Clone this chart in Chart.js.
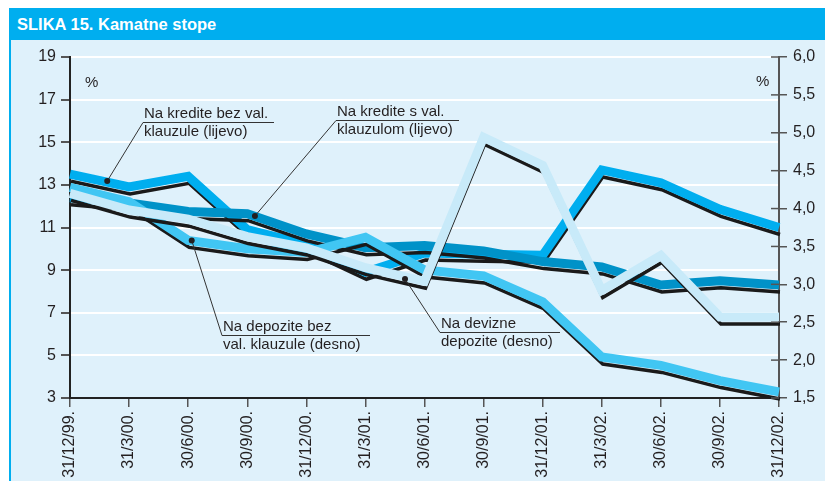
<!DOCTYPE html>
<html>
<head>
<meta charset="utf-8">
<script src="https://cdn.jsdelivr.net/npm/chart.js@4.4.1/dist/chart.umd.min.js"></script>
<style>
  body { margin: 0; background: #fff; }
  #wrap { position: relative; width: 825px; height: 484px; overflow: hidden; }
  #panel { position: absolute; left: 9px; top: 40px; width: 816px; height: 441px; background: #dff1fb; border-left: 2px solid #00aeef; box-sizing: border-box; }
  #title { position: absolute; left: 9px; top: 8px; width: 816px; height: 32px; background: #00aeef; color: #fff;
           font: bold 16.5px "Liberation Sans", Arial, Helvetica, sans-serif; line-height: 33px; padding-left: 8px; box-sizing: border-box; }
  #myChart { position: absolute; left: 0; top: 0; }
</style>
</head>
<body>
<div id="wrap">
  <div id="panel"></div>
  <div id="title">SLIKA 15. Kamatne stope</div>
  <canvas id="myChart" width="825" height="484"></canvas>
</div>
<script>
const labels = ["31/12/99.", "31/3/00.", "30/6/00.", "30/9/00.", "31/12/00.", "31/3/01.", "30/6/01.",
  "30/9/01.", "31/12/01.", "31/3/02.", "30/6/02.", "30/9/02.", "31/12/02."];

// lijevo (%)
const kreditiBezKlauzule = [13.5, 12.9, 13.4, 10.9, 10.2, 8.9, 9.8, 9.75, 9.7, 13.7, 13.1, 11.85, 11.0];
const kreditiSKlauzulom = [12.4, 12.15, 11.75, 11.65, 10.7, 10.05, 10.15, 9.9, 9.4, 9.15, 8.3, 8.5, 8.3];
// desno (%)
const depozitiBezKlauzule = [4.28, 4.09, 3.58, 3.47, 3.42, 3.62, 3.19, 3.11, 2.77, 2.04, 1.93, 1.73, 1.58];
const devizniDepoziti = [4.2, 3.98, 3.86, 3.63, 3.48, 3.22, 3.04, 4.94, 4.57, 2.92, 3.38, 2.57, 2.57];

const leftTicks = [3, 5, 7, 9, 11, 13, 15, 17, 19];
const rightTicks = [1.5, 2.0, 2.5, 3.0, 3.5, 4.0, 4.5, 5.0, 5.5, 6.0];

const FONT = '"Liberation Sans", Arial, Helvetica, sans-serif';
const TEXT = "#231f20";

// opisi linija: tocka na liniji (indeks datuma, vrijednost, os) + polozaj teksta
const notes = [
  { lines: ["Na kredite bez val.", "klauzule (lijevo)"], tx: 144, ty: 118, ux: 274, at: [0.63, 13.18, "y"] },
  { lines: ["Na kredite s val.", "klauzulom (lijevo)"], tx: 337, ty: 116, ux: 459, at: [3.13, 11.54, "y"] },
  { lines: ["Na depozite bez", "val. klauzule (desno)"], tx: 223, ty: 331, ux: 370, at: [2.06, 3.58, "y1"] },
  { lines: ["Na devizne", "depozite (desno)"], tx: 441, ty: 328, ux: 560, at: [5.67, 3.07, "y1"] },
];

const shadowPlugin = {
  id: "shadow",
  beforeDatasetDraw(chart, args) {
    if (chart.data.datasets[args.index].shadow) {
      chart.ctx.save();
      chart.ctx.translate(1, 7);
    }
  },
  afterDatasetDraw(chart, args) {
    if (chart.data.datasets[args.index].shadow) chart.ctx.restore();
  },
};

const notesPlugin = {
  id: "notes",
  afterDraw(chart) {
    const ctx = chart.ctx;
    const xs = chart.scales.x;
    ctx.save();
    // unutarnje crtice desne osi
    const r = chart.scales.y1;
    ctx.strokeStyle = "#555";
    ctx.lineWidth = 1.5;
    r.ticks.forEach((t) => {
      const py = r.getPixelForValue(t.value);
      ctx.beginPath();
      ctx.moveTo(r.left - 8, py);
      ctx.lineTo(r.left, py);
      ctx.stroke();
    });

    ctx.fillStyle = TEXT;
    ctx.font = "15px " + FONT;
    ctx.textBaseline = "alphabetic";
    ctx.fillText("%", 85, 87);
    ctx.fillText("%", 756, 86);

    notes.forEach((n) => {
      const x0 = xs.getPixelForValue(0);
      const step = xs.getPixelForValue(1) - x0;
      const dx = x0 + n.at[0] * step;
      const dy = chart.scales[n.at[2]].getPixelForValue(n.at[1]);
      ctx.fillStyle = TEXT;
      ctx.fillText(n.lines[0], n.tx, n.ty);
      ctx.fillText(n.lines[1], n.tx, n.ty + 18);
      ctx.strokeStyle = "#333";
      ctx.lineWidth = 1;
      const uy = n.ty + 4.5;
      ctx.beginPath();
      ctx.moveTo(n.tx - 1, uy);
      ctx.lineTo(n.ux, uy);
      ctx.moveTo(n.tx - 1, uy);
      ctx.lineTo(dx, dy);
      ctx.stroke();
      ctx.beginPath();
      ctx.arc(dx, dy, 3, 0, Math.PI * 2);
      ctx.fill();
    });
    ctx.restore();
  },
};

const line = (data, color, axis, width, shadow) => ({
  data: data,
  yAxisID: axis,
  borderColor: color,
  borderWidth: width,
  borderJoinStyle: "miter",
  pointRadius: 0,
  tension: 0,
  clip: false,
  shadow: shadow,
});

const ctx = document.getElementById("myChart");

new Chart(ctx, {
  type: "line",
  data: {
    labels: labels,
    datasets: [
      line(devizniDepoziti, "#c8eaf9", "y1", 9, false),
      line(devizniDepoziti, "#1a1a1a", "y1", 3.5, true),
      line(depozitiBezKlauzule, "#41c6f3", "y1", 9, false),
      line(depozitiBezKlauzule, "#1a1a1a", "y1", 3.5, true),
      line(kreditiSKlauzulom, "#0092c8", "y", 9, false),
      line(kreditiSKlauzulom, "#1a1a1a", "y", 3.5, true),
      line(kreditiBezKlauzule, "#00aeef", "y", 9, false),
      line(kreditiBezKlauzule, "#1a1a1a", "y", 3.5, true),
    ],
  },
  options: {
    responsive: false,
    animation: false,
    events: [],
    layout: { padding: { top: 57, left: 0, right: 0, bottom: 0 } },
    plugins: {
      legend: { display: false },
      tooltip: { enabled: false },
    },
    scales: {
      x: {
        offset: false,
        grid: { drawOnChartArea: false, tickLength: 9, tickColor: "#555", lineWidth: 1.5 },
        border: { color: "#222", width: 2 },
        ticks: { minRotation: 90, maxRotation: 90, autoSkip: false, padding: 4, color: TEXT, font: { family: FONT, size: 16 } },
        afterFit: (s) => { s.height = 86; },
      },
      y: {
        position: "left",
        min: 3,
        max: 19,
        afterBuildTicks: (s) => { s.ticks = leftTicks.map((v) => ({ value: v })); },
        grid: { color: "#ffffff", lineWidth: 2, tickColor: "#555", tickLength: 9 },
        border: { color: "#222", width: 2 },
        ticks: { padding: 5, color: TEXT, font: { family: FONT, size: 16 } },
        afterFit: (s) => { s.width = 70; },
      },
      y1: {
        position: "right",
        min: 1.5,
        max: 6,
        afterBuildTicks: (s) => { s.ticks = rightTicks.map((v) => ({ value: v })); },
        grid: { drawOnChartArea: false, tickColor: "#555", tickLength: 8, lineWidth: 1.5 },
        border: { color: "#555", width: 2 },
        ticks: {
          padding: 6,
          color: TEXT,
          font: { family: FONT, size: 16 },
          callback: (v) => v.toFixed(1).replace(".", ","),
        },
        afterFit: (s) => { s.width = 46; },
      },
    },
  },
  plugins: [shadowPlugin, notesPlugin],
});
</script>
</body>
</html>
